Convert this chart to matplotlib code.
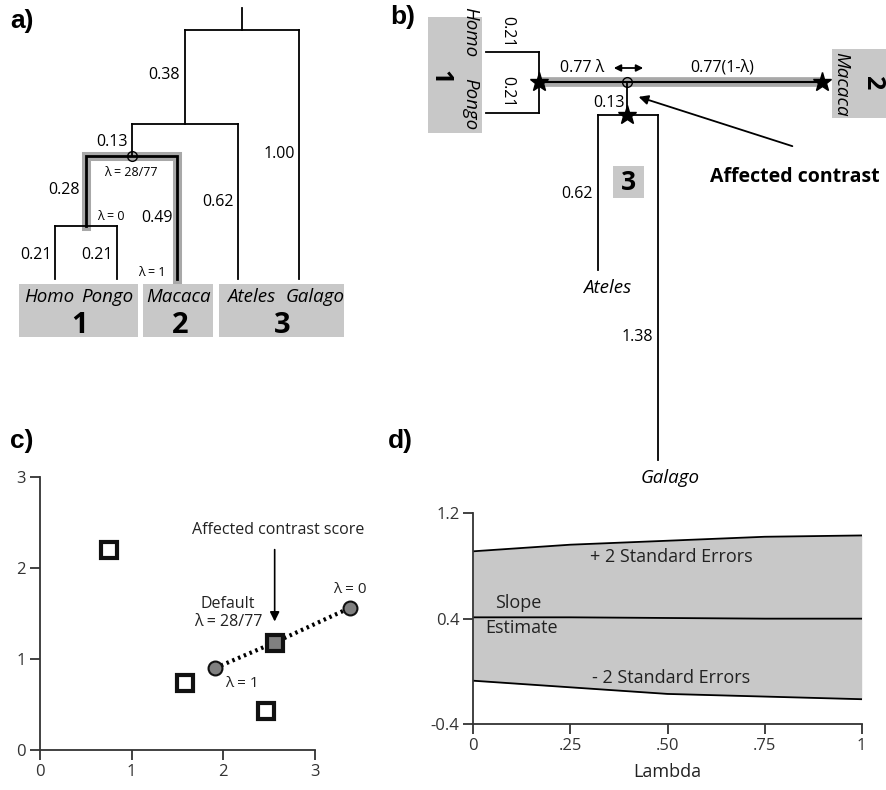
import matplotlib
matplotlib.use('Agg')
import matplotlib.pyplot as plt
from matplotlib.patches import Rectangle

plt.rcParams['font.family'] = ['Open Sans', 'DejaVu Sans']

# ---- data ----
# branch lengths (panel a, b)
br_homo = 0.21
br_pongo = 0.21
br_hp = 0.28
br_macaca = 0.49
br_hpm = 0.13
br_ateles = 0.62
br_inner = 0.38
br_galago = 1.00
br_galago_b = 1.38
species = ['Homo', 'Pongo', 'Macaca', 'Ateles', 'Galago']
groups = ['1', '2', '3']

# panel c: contrast scores
open_x = [0.75, 1.58, 2.47]
open_y = [2.19, 0.73, 0.43]
path_x = [1.91, 2.56, 3.38]   # lambda = 1, default 28/77, lambda = 0
path_y = [0.90, 1.18, 1.56]

# panel d: slope vs lambda
lam = [0, 0.25, 0.5, 0.75, 1.0]
upper = [0.91, 0.96, 0.99, 1.02, 1.03]
slope = [0.41, 0.41, 0.405, 0.40, 0.40]
lower = [-0.07, -0.12, -0.17, -0.19, -0.21]

BOX = '#c8c8c8'
HIL = '#a8a8a8'
TXT = '#222222'

fig = plt.figure(figsize=(8.86, 7.9), dpi=100)
ov = fig.add_axes([0, 0, 1, 1])
ov.set_xlim(0, 886)
ov.set_ylim(790, 0)
ov.axis('off')

# ================= panel a =================
top_a, sc_a = 29.5, 249
tip_x = [55.5, 117, 177, 238.5, 299]
def ya(d):
    return top_a + d * sc_a
d_inner = br_inner
d_hpm = d_inner + br_hpm
d_hp = d_hpm + br_hp
x_hp = (tip_x[0] + tip_x[1]) / 2
x_hpm = (x_hp + tip_x[2]) / 2
x_inner = (x_hpm + tip_x[3]) / 2
x_root = (x_inner + tip_x[4]) / 2

# highlighted path
ov.plot([x_hp, x_hp, tip_x[2], tip_x[2]],
        [ya(d_hp), ya(d_hpm), ya(d_hpm), ya(d_hpm + br_macaca)],
        color=HIL, lw=6.5, solid_joinstyle='miter', solid_capstyle='projecting')
ov.plot([x_hp, x_hp, tip_x[2], tip_x[2]],
        [ya(d_hp), ya(d_hpm), ya(d_hpm), ya(d_hpm + br_macaca)],
        color='black', lw=2, solid_joinstyle='miter')

vert = [(tip_x[0], d_hp, d_hp + br_homo), (tip_x[1], d_hp, d_hp + br_pongo),
        (x_hpm, d_inner, d_hpm), (tip_x[3], d_inner, d_inner + br_ateles),
        (x_inner, 0, d_inner), (tip_x[4], 0, br_galago)]
for x, d0, d1 in vert:
    ov.plot([x, x], [ya(d0), ya(d1)], color='black', lw=1.3)
hor = [(d_hp, tip_x[0], tip_x[1]), (d_inner, x_hpm, tip_x[3]), (0, x_inner, tip_x[4])]
for d, x0, x1 in hor:
    ov.plot([x0, x1], [ya(d), ya(d)], color='black', lw=1.3)
ov.plot([x_root, x_root], [8, ya(0)], color='black', lw=1.3)
ov.plot([x_hpm], [ya(d_hpm)], marker='o', ms=7, mfc='none', mec='black', mew=1)

fs = 11.5
ov.text(x_inner - 5, 75, '0.38', ha='right', va='center', fontsize=fs)
ov.text(x_hpm - 4, 142, '0.13', ha='right', va='center', fontsize=fs)
ov.text(131, 173, 'λ = 28/77', ha='center', va='center', fontsize=9)
ov.text(x_hp - 6, 190, '0.28', ha='right', va='center', fontsize=fs)
ov.text(111, 217, 'λ = 0', ha='center', va='center', fontsize=9)
ov.text(tip_x[2] - 4, 218, '0.49', ha='right', va='center', fontsize=fs)
ov.text(tip_x[3] - 5, 202, '0.62', ha='right', va='center', fontsize=fs)
ov.text(tip_x[4] - 4, 154, '1.00', ha='right', va='center', fontsize=fs)
ov.text(tip_x[0] - 4, 255, '0.21', ha='right', va='center', fontsize=fs)
ov.text(tip_x[1] - 4, 255, '0.21', ha='right', va='center', fontsize=fs)
ov.text(152, 273, 'λ = 1', ha='center', va='center', fontsize=9)

for x0, w in [(19, 119), (143, 70), (219, 125)]:
    ov.add_patch(Rectangle((x0, 284), w, 53, color=BOX, lw=0))
for name, x in zip(species, [49, 107, 179, 251, 315]):
    ov.text(x, 302, name, ha='center', va='baseline', fontsize=13.5, style='italic')
for g, x in zip(groups, [80, 180, 282]):
    ov.text(x, 333, g, ha='center', va='baseline', fontsize=21, fontweight='bold')

# ================= panel b =================
b_y = 82
sc_b = 250
x_node1 = 539
x_mac = 822
x_mid = 627
y_node3 = b_y + br_hpm * sc_b
x_at, x_ga = 598, 658

ov.plot([x_node1, x_mac], [b_y, b_y], color=HIL, lw=7, solid_capstyle='butt')
ov.plot([x_node1, x_mac], [b_y, b_y], color='black', lw=1.5)
for yy in [52, 113]:
    ov.plot([x_node1 - br_homo * sc_b, x_node1], [yy, yy], color='black', lw=1.3)
ov.plot([x_node1, x_node1], [52, 113], color='black', lw=1.3)
ov.plot([x_mid, x_mid], [b_y, y_node3], color='black', lw=1.3)
ov.plot([x_at, x_ga], [y_node3, y_node3], color='black', lw=1.3)
ov.plot([x_at, x_at], [y_node3, y_node3 + br_ateles * sc_b], color='black', lw=1.3)
ov.plot([x_ga, x_ga], [y_node3, y_node3 + br_galago_b * sc_b], color='black', lw=1.3)
ov.plot([x_node1, x_mac, x_mid], [b_y, b_y, y_node3], ls='none', marker='*',
        ms=14, color='black')
ov.plot([x_mid], [b_y], marker='o', ms=7, mfc='none', mec='black', mew=1)

ov.text(582, 68, '0.77 λ', ha='center', va='center', fontsize=fs)
ov.annotate('', xy=(646, 68), xytext=(611, 68),
            arrowprops=dict(arrowstyle='<|-|>', lw=1.3, color='black', mutation_scale=10))
ov.text(722, 68, '0.77(1-λ)', ha='center', va='center', fontsize=fs)
ov.text(609, 103, '0.13', ha='center', va='center', fontsize=fs)
ov.text(x_at - 5, 194, '0.62', ha='right', va='center', fontsize=fs)
ov.text(x_ga - 5, 337, '1.38', ha='right', va='center', fontsize=fs)
ov.text(607, 288, 'Ateles', ha='center', va='center', fontsize=13.5, style='italic')
ov.text(670, 478, 'Galago', ha='center', va='center', fontsize=13.5, style='italic')
ov.text(507, 32, '0.21', ha='center', va='center', fontsize=fs, rotation=-90)
ov.text(507, 92, '0.21', ha='center', va='center', fontsize=fs, rotation=-90)

ov.add_patch(Rectangle((428, 17), 54, 116, color=BOX, lw=0))
ov.text(470, 32, species[0], ha='center', va='center', fontsize=13.5, style='italic', rotation=-90)
ov.text(470, 104, species[1], ha='center', va='center', fontsize=13.5, style='italic', rotation=-90)
ov.text(440, 77, groups[0], ha='center', va='center', fontsize=18, fontweight='bold', rotation=-90)
ov.add_patch(Rectangle((832, 49), 54, 69, color=BOX, lw=0))
ov.text(841, 84, species[2], ha='center', va='center', fontsize=13.5, style='italic', rotation=-90)
ov.text(873, 82, groups[1], ha='center', va='center', fontsize=18, fontweight='bold', rotation=-90)
ov.add_patch(Rectangle((613, 166), 31, 32, color=BOX, lw=0))
ov.text(628.5, 182, groups[2], ha='center', va='center', fontsize=19, fontweight='bold')

ov.annotate('', xy=(636, 96), xytext=(795, 147),
            arrowprops=dict(arrowstyle='-|>', lw=1.3, color='black', mutation_scale=14))
ov.text(795, 177, 'Affected contrast', ha='center', va='center', fontsize=14, fontweight='bold')

# panel labels
for lab, x, y in [('a)', 10, 21), ('b)', 390, 17), ('c)', 10, 441), ('d)', 388, 441)]:
    ov.text(x, y, lab, ha='left', va='center', fontsize=19, fontweight='bold',
            family='Liberation Sans')

# ================= panel c =================
W, H = 886, 790
axc = fig.add_axes([40 / W, (H - 750) / H, 275 / W, (750 - 476.7) / H])
axc.set_xlim(0, 3)
axc.set_ylim(0, 3)
axc.plot(path_x, path_y, color='black', lw=3, ls=(0, (0.6, 0.9)), zorder=2, clip_on=False)
axc.plot(open_x, open_y, ls='none', marker='s', ms=12, mfc='white', mec='#111111',
         mew=3, zorder=3, clip_on=False)
axc.plot([path_x[1]], [path_y[1]], ls='none', marker='s', ms=12, mfc='#808080',
         mec='#111111', mew=3, zorder=3, clip_on=False)
axc.plot([path_x[0], path_x[2]], [path_y[0], path_y[2]], ls='none', marker='o', ms=10,
         mfc='#808080', mec='#111111', mew=1.5, zorder=3, clip_on=False)
axc.annotate('', xy=(2.56, 1.38), xytext=(2.56, 2.23),
             arrowprops=dict(arrowstyle='-|>', lw=1.2, color='black', mutation_scale=14))
axc.text(2.6, 2.41, 'Affected contrast score', ha='center', va='center', fontsize=11.5, color=TXT)
axc.text(2.05, 1.60, 'Default', ha='center', va='center', fontsize=11.5, color=TXT)
axc.text(2.05, 1.41, 'λ = 28/77', ha='center', va='center', fontsize=11.5, color=TXT)
axc.text(3.38, 1.76, 'λ = 0', ha='center', va='center', fontsize=11, color=TXT)
axc.text(2.2, 0.73, 'λ = 1', ha='center', va='center', fontsize=11, color=TXT)
axc.set_xticks([0, 1, 2, 3])
axc.set_yticks([0, 1, 2, 3])

# ================= panel d =================
axd = fig.add_axes([473.3 / W, (H - 724.3) / H, (861.7 - 473.3) / W, (724.3 - 513) / H])
axd.set_xlim(0, 1)
axd.set_ylim(-0.4, 1.2)
axd.fill_between(lam, lower, upper, color=BOX, lw=0)
axd.plot(lam, upper, color='black', lw=1.3)
axd.plot(lam, lower, color='black', lw=1.3)
axd.plot(lam, slope, color='black', lw=1.3)
axd.text(0.51, 0.867, '+ 2 Standard Errors', ha='center', va='center', fontsize=13, color=TXT)
axd.text(0.115, 0.52, 'Slope', ha='center', va='center', fontsize=13, color=TXT)
axd.text(0.123, 0.33, 'Estimate', ha='center', va='center', fontsize=13, color=TXT)
axd.text(0.509, -0.05, '- 2 Standard Errors', ha='center', va='center', fontsize=13, color=TXT)
axd.set_xticks([0, 0.25, 0.5, 0.75, 1])
axd.set_xticklabels(['0', '.25', '.50', '.75', '1'])
axd.set_yticks([-0.4, 0.4, 1.2])
axd.set_yticklabels(['-0.4', '0.4', '1.2'])
axd.set_xlabel('Lambda', fontsize=13, color=TXT, labelpad=6)

for ax in (axc, axd):
    ax.patch.set_alpha(0)
    for s in ['top', 'right']:
        ax.spines[s].set_visible(False)
    for s in ['left', 'bottom']:
        ax.spines[s].set_color('#333333')
        ax.spines[s].set_linewidth(1.3)
    ax.tick_params(direction='out', length=7, width=1.3, color='#333333',
                   labelsize=12, labelcolor='#333333', pad=3)

fig.savefig('out.png', dpi=100)
